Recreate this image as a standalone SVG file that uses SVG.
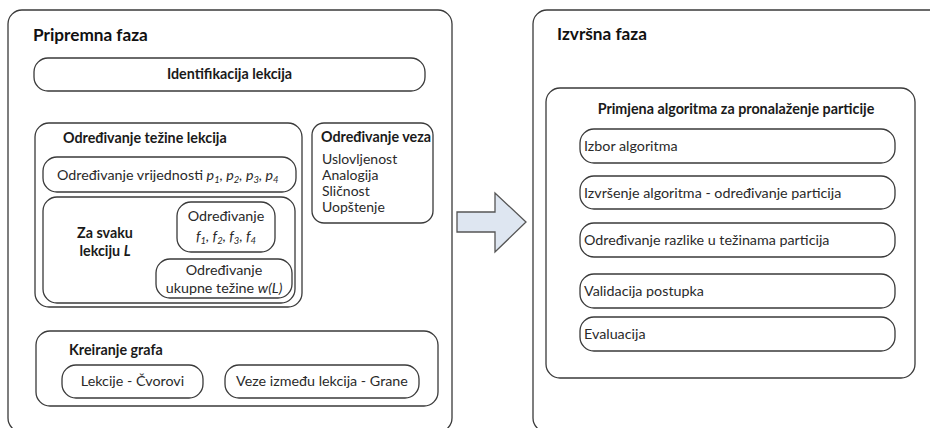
<svg xmlns="http://www.w3.org/2000/svg" width="930" height="428" viewBox="0 0 930 428">
<style>
.box{fill:#fff;stroke:#3a3a3a;stroke-width:1.3}
.t{font-family:Lato,"Liberation Sans",sans-serif;font-size:14.3px;fill:#2a2a2a}
.b{font-weight:bold;fill:#1a1a1a}
.title{font-family:Lato,"Liberation Sans",sans-serif;font-size:17.2px;font-weight:bold;fill:#111}
.c{text-anchor:middle}
.i{font-style:italic}
.s{font-size:9.5px}
.v{font-size:14px}
</style>
<rect width="930" height="428" fill="#fff"/>
<g id="pripremna-faza">
<rect class="box" x="8" y="10" width="444" height="422" rx="14"/>
<text class="title" x="33" y="41">Pripremna faza</text>
</g>
<g id="izvrsna-faza">
<rect class="box" x="533" y="10" width="420" height="422" rx="14"/>
<text class="title" x="557" y="40">Izvršna faza</text>
</g>
<g id="identifikacija">
<rect class="box" x="34" y="58" width="391" height="33" rx="14"/>
<text class="t b c" x="229.5" y="79">Identifikacija lekcija</text>
</g>
<g id="odredjivanje-tezine">
<rect class="box" x="35" y="123" width="267" height="184" rx="14"/>
<text class="t b" x="63" y="143">Određivanje težine lekcija</text>
</g>
<g id="odredjivanje-vrijednosti">
<rect class="box" x="43" y="157" width="253" height="35" rx="14"/>
<text class="t" x="57" y="180">Određivanje vrijednosti  <tspan class="i">p<tspan class="s" dy="3">1</tspan><tspan dy="-3">, p</tspan><tspan class="s" dy="3">2</tspan><tspan dy="-3">, p</tspan><tspan class="s" dy="3">3</tspan><tspan dy="-3">, p</tspan><tspan class="s" dy="3">4</tspan></tspan></text>
</g>
<g id="za-svaku-lekciju">
<rect class="box" x="43" y="197" width="252" height="106" rx="14"/>
<text class="t b c" x="105" y="238">Za svaku</text>
<text class="t b c" x="105" y="256">lekciju <tspan class="i">L</tspan></text>
</g>
<g id="odredjivanje-f">
<rect class="box" x="177" y="202" width="98" height="50" rx="14"/>
<text class="t c" x="226" y="221">Određivanje</text>
<text class="t c i" x="226" y="241">f<tspan class="s" dy="3">1</tspan><tspan dy="-3">, f</tspan><tspan class="s" dy="3">2</tspan><tspan dy="-3">, f</tspan><tspan class="s" dy="3">3</tspan><tspan dy="-3">, f</tspan><tspan class="s" dy="3">4</tspan></text>
</g>
<g id="odredjivanje-ukupne">
<rect class="box" x="156" y="259" width="136" height="39" rx="14"/>
<text class="t c" x="224" y="275">Određivanje</text>
<text class="t c" x="224" y="293">ukupne težine <tspan class="i">w(L)</tspan></text>
</g>
<g id="odredjivanje-veza">
<rect class="box" x="312" y="123" width="121" height="100" rx="12"/>
<text class="t b" x="321" y="142">Određivanje veza</text>
<text class="t v" x="322" y="164">Uslovljenost</text>
<text class="t v" x="322" y="180">Analogija</text>
<text class="t v" x="322" y="196">Sličnost</text>
<text class="t v" x="322" y="212">Uopštenje</text>
</g>
<g id="kreiranje-grafa">
<rect class="box" x="36" y="331" width="402" height="75" rx="14"/>
<text class="t b" x="69" y="355">Kreiranje grafa</text>
</g>
<g id="lekcije-cvorovi">
<rect class="box" x="62" y="365" width="141" height="33" rx="14"/>
<text class="t c" x="132.5" y="386">Lekcije - Čvorovi</text>
</g>
<g id="veze-grane">
<rect class="box" x="225" y="365" width="194" height="33" rx="14"/>
<text class="t c" x="322" y="386">Veze između lekcija - Grane</text>
</g>
<g id="primjena-algoritma">
<rect class="box" x="546" y="88" width="369" height="290" rx="14"/>
<text class="t b c" x="736" y="114">Primjena algoritma za pronalaženje particije</text>
</g>
<g id="izbor-algoritma">
<rect class="box" x="580" y="129" width="315" height="34" rx="14"/>
<text class="t" x="584" y="151">Izbor algoritma</text>
</g>
<g id="izvrsenje-algoritma">
<rect class="box" x="580" y="176" width="315" height="33" rx="14"/>
<text class="t" x="584" y="198">Izvršenje algoritma - određivanje particija</text>
</g>
<g id="odredjivanje-razlike">
<rect class="box" x="580" y="223" width="315" height="34" rx="14"/>
<text class="t" x="584" y="245">Određivanje razlike u težinama particija</text>
</g>
<g id="validacija">
<rect class="box" x="580" y="274" width="315" height="34" rx="14"/>
<text class="t" x="584" y="296">Validacija postupka</text>
</g>
<g id="evaluacija">
<rect class="box" x="580" y="317" width="315" height="34" rx="14"/>
<text class="t" x="584" y="339">Evaluacija</text>
</g>
<g id="connectors">
<polygon points="457,212 495,212 495,193 526,222 495,252 495,232 457,232" fill="#dee6f1" stroke="#555" stroke-width="1.3" stroke-linejoin="miter"/>
</g>
</svg>
